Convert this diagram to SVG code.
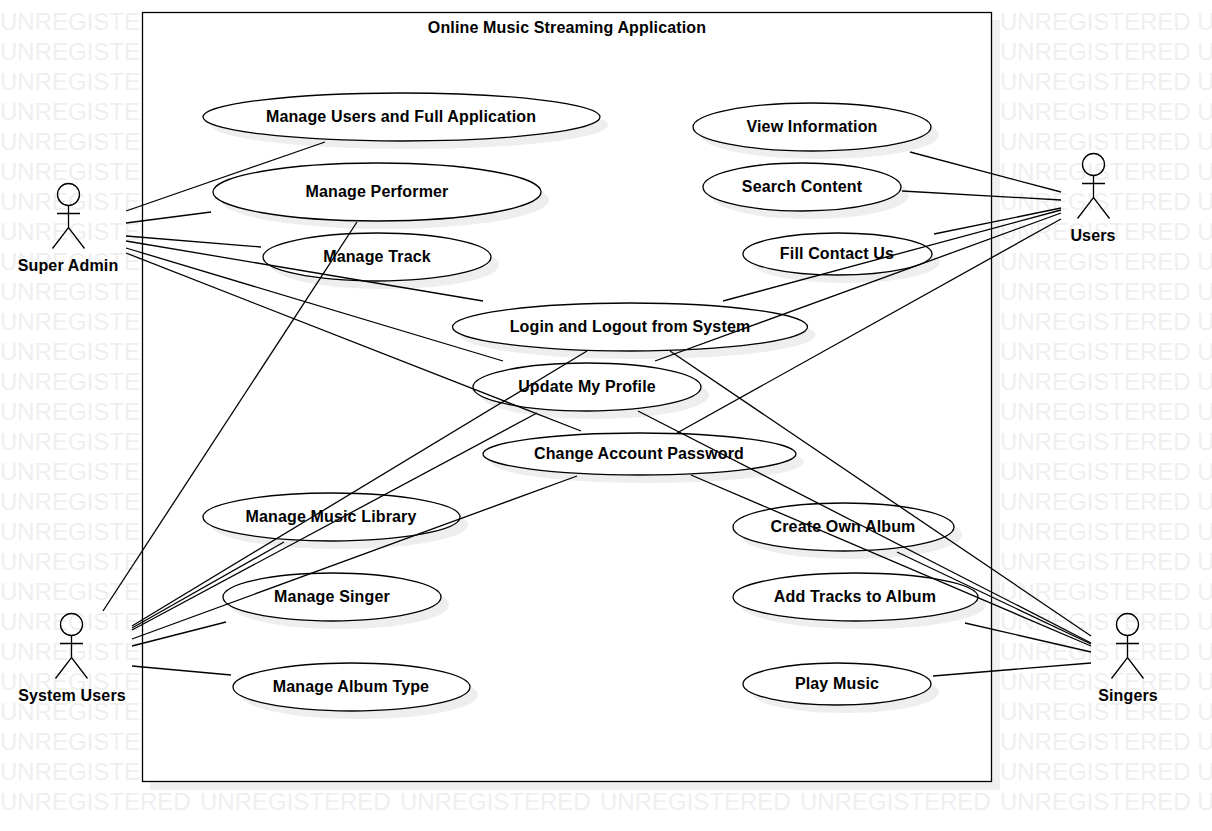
<svg xmlns="http://www.w3.org/2000/svg" width="1212" height="831" viewBox="0 0 1212 831">
<style>
text{font-family:"Liberation Sans",Arial,sans-serif}
.wm{font-size:24px;fill:#efefef}
.uc{fill:#fff;stroke:#000;stroke-width:1.3}
.sh{fill:#eee;stroke:none}
.st{fill:none;stroke:#000;stroke-width:1.3}
.l{font-size:16px;font-weight:bold;fill:#000;text-anchor:middle;letter-spacing:.15px}
#connectors line{stroke:#000;stroke-width:1.3}
</style>
<defs>
<g id="actor"><circle class="st" cx="0" cy="0" r="11"/><path class="st" d="M0 11V33M-11.500 19H11.500M-16 54L0 33L16 54"/></g>
</defs>
<rect width="1212" height="831" fill="#fff"/>
<g id="watermark" class="wm">
<text x="0" y="30">UNREGISTE</text><text x="1000" y="30">UNREGISTERED U</text>
<text x="0" y="60">UNREGISTE</text><text x="1000" y="60">UNREGISTERED U</text>
<text x="0" y="90">UNREGISTE</text><text x="1000" y="90">UNREGISTERED U</text>
<text x="0" y="120">UNREGISTE</text><text x="1000" y="120">UNREGISTERED U</text>
<text x="0" y="150">UNREGISTE</text><text x="1000" y="150">UNREGISTERED U</text>
<text x="0" y="180">UNREGISTE</text><text x="1000" y="180">UNREGISTERED U</text>
<text x="0" y="210">UNREGISTE</text><text x="1000" y="210">UNREGISTERED U</text>
<text x="0" y="240">UNREGISTE</text><text x="1000" y="240">UNREGISTERED U</text>
<text x="0" y="270">UNREGISTE</text><text x="1000" y="270">UNREGISTERED U</text>
<text x="0" y="300">UNREGISTE</text><text x="1000" y="300">UNREGISTERED U</text>
<text x="0" y="330">UNREGISTE</text><text x="1000" y="330">UNREGISTERED U</text>
<text x="0" y="360">UNREGISTE</text><text x="1000" y="360">UNREGISTERED U</text>
<text x="0" y="390">UNREGISTE</text><text x="1000" y="390">UNREGISTERED U</text>
<text x="0" y="420">UNREGISTE</text><text x="1000" y="420">UNREGISTERED U</text>
<text x="0" y="450">UNREGISTE</text><text x="1000" y="450">UNREGISTERED U</text>
<text x="0" y="480">UNREGISTE</text><text x="1000" y="480">UNREGISTERED U</text>
<text x="0" y="510">UNREGISTE</text><text x="1000" y="510">UNREGISTERED U</text>
<text x="0" y="540">UNREGISTE</text><text x="1000" y="540">UNREGISTERED U</text>
<text x="0" y="570">UNREGISTE</text><text x="1000" y="570">UNREGISTERED U</text>
<text x="0" y="600">UNREGISTE</text><text x="1000" y="600">UNREGISTERED U</text>
<text x="0" y="630">UNREGISTE</text><text x="1000" y="630">UNREGISTERED U</text>
<text x="0" y="660">UNREGISTE</text><text x="1000" y="660">UNREGISTERED U</text>
<text x="0" y="690">UNREGISTE</text><text x="1000" y="690">UNREGISTERED U</text>
<text x="0" y="720">UNREGISTE</text><text x="1000" y="720">UNREGISTERED U</text>
<text x="0" y="750">UNREGISTE</text><text x="1000" y="750">UNREGISTERED U</text>
<text x="0" y="780">UNREGISTE</text><text x="1000" y="780">UNREGISTERED U</text>
<text x="0" y="810">UNREGISTERED</text><text x="200" y="810">UNREGISTERED</text><text x="400" y="810">UNREGISTERED</text><text x="600" y="810">UNREGISTERED</text><text x="800" y="810">UNREGISTERED</text><text x="1000" y="810">UNREGISTERED U</text>
</g>
<g id="system">
<rect x="150" y="20" width="850" height="770" fill="#f0f0f0"/>
<rect x="142.500" y="12.500" width="849" height="769" fill="#fff" stroke="#000" stroke-width="1.300"/>
<text class="l" x="567" y="33">Online Music Streaming Application</text>
</g>
<g id="uc-manage-users"><ellipse class="sh" cx="409.500" cy="125" rx="198.500" ry="24"/><ellipse class="uc" cx="401.500" cy="117" rx="198.500" ry="24"/><text class="l" x="401" y="122">Manage Users and Full Application</text></g>
<g id="uc-manage-performer"><ellipse class="sh" cx="385" cy="200" rx="164" ry="29"/><ellipse class="uc" cx="377" cy="192" rx="164" ry="29"/><text class="l" x="377" y="197">Manage Performer</text></g>
<g id="uc-manage-track"><ellipse class="sh" cx="385" cy="265" rx="114" ry="24"/><ellipse class="uc" cx="377" cy="257" rx="114" ry="24"/><text class="l" x="377" y="262">Manage Track</text></g>
<g id="uc-login"><ellipse class="sh" cx="638" cy="335" rx="177.500" ry="24"/><ellipse class="uc" cx="630" cy="327" rx="177.500" ry="24"/><text class="l" x="630" y="332">Login and Logout from System</text></g>
<g id="uc-profile"><ellipse class="sh" cx="595" cy="395" rx="114" ry="24"/><ellipse class="uc" cx="587" cy="387" rx="114" ry="24"/><text class="l" x="587" y="392">Update My Profile</text></g>
<g id="uc-password"><ellipse class="sh" cx="647.500" cy="462" rx="156.500" ry="21"/><ellipse class="uc" cx="639.500" cy="454" rx="156.500" ry="21"/><text class="l" x="639" y="459">Change Account Password</text></g>
<g id="uc-library"><ellipse class="sh" cx="339.500" cy="525" rx="128.500" ry="24"/><ellipse class="uc" cx="331.500" cy="517" rx="128.500" ry="24"/><text class="l" x="331" y="522">Manage Music Library</text></g>
<g id="uc-singer"><ellipse class="sh" cx="340" cy="605" rx="109" ry="24"/><ellipse class="uc" cx="332" cy="597" rx="109" ry="24"/><text class="l" x="332" y="602">Manage Singer</text></g>
<g id="uc-album-type"><ellipse class="sh" cx="359.500" cy="695" rx="118.500" ry="24"/><ellipse class="uc" cx="351.500" cy="687" rx="118.500" ry="24"/><text class="l" x="351" y="692">Manage Album Type</text></g>
<g id="uc-view"><ellipse class="sh" cx="820" cy="135" rx="119" ry="24"/><ellipse class="uc" cx="812" cy="127" rx="119" ry="24"/><text class="l" x="812" y="132">View Information</text></g>
<g id="uc-search"><ellipse class="sh" cx="810" cy="195" rx="99" ry="24"/><ellipse class="uc" cx="802" cy="187" rx="99" ry="24"/><text class="l" x="802" y="192">Search Content</text></g>
<g id="uc-contact"><ellipse class="sh" cx="845.500" cy="262" rx="94.500" ry="21"/><ellipse class="uc" cx="837.500" cy="254" rx="94.500" ry="21"/><text class="l" x="837" y="259">Fill Contact Us</text></g>
<g id="uc-create-album"><ellipse class="sh" cx="851.500" cy="535" rx="110.500" ry="24"/><ellipse class="uc" cx="843.500" cy="527" rx="110.500" ry="24"/><text class="l" x="843" y="532">Create Own Album</text></g>
<g id="uc-add-tracks"><ellipse class="sh" cx="863.500" cy="605" rx="122.500" ry="24"/><ellipse class="uc" cx="855.500" cy="597" rx="122.500" ry="24"/><text class="l" x="855" y="602">Add Tracks to Album</text></g>
<g id="uc-play"><ellipse class="sh" cx="845" cy="692" rx="94" ry="21"/><ellipse class="uc" cx="837" cy="684" rx="94" ry="21"/><text class="l" x="837" y="689">Play Music</text></g>
<g id="actor-super-admin"><use href="#actor" x="68.500" y="194.500"/><text class="l" x="68" y="271">Super Admin</text></g>
<g id="actor-system-users"><use href="#actor" x="71.500" y="624.500"/><text class="l" x="72" y="701">System Users</text></g>
<g id="actor-users"><use href="#actor" x="1093.500" y="164.500"/><text class="l" x="1093" y="241">Users</text></g>
<g id="actor-singers"><use href="#actor" x="1127.500" y="624.500"/><text class="l" x="1128" y="701">Singers</text></g>
<g id="connectors">
<line x1="126" y1="211" x2="325" y2="142"/>
<line x1="126" y1="223" x2="211" y2="212"/>
<line x1="126" y1="236" x2="261" y2="247"/>
<line x1="126" y1="241" x2="483" y2="301"/>
<line x1="126" y1="248" x2="503" y2="361"/>
<line x1="126" y1="253" x2="581" y2="431"/>
<line x1="1061" y1="192" x2="910" y2="152"/>
<line x1="1061" y1="200" x2="902" y2="191"/>
<line x1="1061" y1="208" x2="934" y2="234"/>
<line x1="1061" y1="210" x2="723" y2="301"/>
<line x1="1061" y1="213" x2="655" y2="361"/>
<line x1="1061" y1="219" x2="677" y2="433"/>
<line x1="103" y1="611" x2="357" y2="222"/>
<line x1="132" y1="626" x2="587" y2="351"/>
<line x1="132" y1="630" x2="537" y2="413"/>
<line x1="132" y1="628" x2="284" y2="542"/>
<line x1="132" y1="639" x2="577" y2="476"/>
<line x1="132" y1="646" x2="226" y2="622"/>
<line x1="132" y1="666" x2="231" y2="675"/>
<line x1="1091" y1="636" x2="670" y2="351"/>
<line x1="1091" y1="643" x2="638" y2="411"/>
<line x1="1091" y1="646" x2="691" y2="475"/>
<line x1="1091" y1="644" x2="897" y2="552"/>
<line x1="1091" y1="652" x2="965" y2="623"/>
<line x1="1091" y1="663" x2="933" y2="676"/>
</g>
</svg>
